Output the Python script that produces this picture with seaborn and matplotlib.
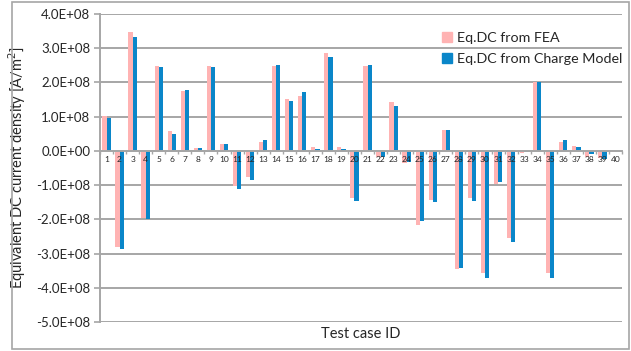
import numpy as np
import pandas as pd
import matplotlib
matplotlib.use("Agg")
import matplotlib.pyplot as plt
import seaborn as sns
from matplotlib.ticker import FuncFormatter, FixedLocator
from matplotlib.patches import Rectangle

# -----------------------------
# DATA (values in units of 1e8 A/m^2)
# -----------------------------
case_ids = [str(i) for i in range(1, 41)]
fea = [1.03, -2.82, 3.47, -1.95, 2.47, 0.59, 1.74, 0.07, 2.48, 0.20,
       -1.04, -0.75, 0.26, 2.47, 1.53, 1.59, 0.10, 2.87, 0.10, -1.39,
       2.47, -0.17, 1.44, -0.34, -2.18, -1.43, 0.61, -3.45, -1.39, -3.57,
       -0.97, -2.55, -0.06, 2.02, -3.57, 0.26, 0.15, -0.17, -0.21, -0.03]
charge = [0.96, -2.88, 3.33, -1.98, 2.45, 0.50, 1.77, 0.07, 2.44, 0.21,
          -1.10, -0.85, 0.32, 2.52, 1.47, 1.71, 0.06, 2.75, 0.06, -1.45,
          2.52, -0.19, 1.31, -0.33, -2.05, -1.48, 0.61, -3.41, -1.46, -3.72,
          -0.92, -2.67, -0.04, 2.00, -3.72, 0.31, 0.10, -0.08, -0.23, -0.01]
series_names = ["Eq.DC from FEA", "Eq.DC from Charge Model"]
colors = ["#FFB3B3", "#0A86C9"]
y_ticks = [-5e8, -4e8, -3e8, -2e8, -1e8, 0, 1e8, 2e8, 3e8, 4e8]

df = pd.DataFrame({
    "case": case_ids * 2,
    "value": np.array(fea + charge) * 1e8,
    "series": [series_names[0]] * 40 + [series_names[1]] * 40,
})

# -----------------------------
# PLOT
# -----------------------------
sns.set_style("white")
plt.rcParams["font.family"] = ["Lato", "DejaVu Sans"]

fig = plt.figure(figsize=(6.31, 3.51), dpi=100)
ax = fig.add_axes([100 / 631, 1 - 322 / 351, 522 / 631, 308 / 351])

# gridlines drawn underneath the bars
for yv in y_ticks:
    ax.axhline(yv, color="#A6A6A6", linewidth=1.4, zorder=0.5)

sns.barplot(data=df, x="case", y="value", hue="series", palette=colors,
            width=0.64, gap=0, ax=ax, legend=False, saturation=1,
            edgecolor="none", linewidth=0, zorder=1)

ax.set_ylim(-5e8, 4e8)
ax.set_xlim(-0.5, 39.5)
ax.yaxis.set_major_locator(FixedLocator(y_ticks))
ax.yaxis.set_major_formatter(FuncFormatter(lambda v, p: f"{v:.1E}"))
ax.grid(False)
ax.set_axisbelow(False)

for s in ["top", "right"]:
    ax.spines[s].set_visible(False)
ax.spines["left"].set_color("#A6A6A6")
ax.spines["left"].set_linewidth(1.4)
ax.spines["bottom"].set_position(("data", 0))
ax.spines["bottom"].set_color("#A6A6A6")
ax.spines["bottom"].set_linewidth(1.4)

ax.tick_params(axis="y", direction="out", length=4, width=1.2, color="#A6A6A6",
               labelsize=9.5, pad=3, left=True)
ax.tick_params(axis="x", length=0, labelsize=6, pad=4)
ax.set_xticks(np.arange(-0.5, 40, 1), minor=True)
ax.tick_params(axis="x", which="minor", direction="out", length=2.5,
               width=1, color="#A6A6A6", bottom=True)

ax.set_xlabel("")
ax.set_ylabel("Equivalent DC current density [A/m$^2$]", fontsize=10.5, labelpad=6)
ax.text(0.5, -0.015, "Test case ID", transform=ax.transAxes, ha="center",
        va="top", fontsize=10.5)

handles = [Rectangle((0, 0), 1, 1, color=c) for c in colors]
fig.legend(handles, series_names, loc="upper left",
           bbox_to_anchor=(435 / 631, 1 - 25 / 351), frameon=False,
           fontsize=10.3, handlelength=0.7, handleheight=0.7,
           handletextpad=0.35, labelspacing=0.65, borderpad=0)

# outer chart border
fig.patches.append(Rectangle((12 / 631, 2 / 351), 617 / 631, 347 / 351,
                             transform=fig.transFigure, fill=False,
                             edgecolor="#A6A6A6", linewidth=1.2))

plt.savefig("out.png", dpi=100)
plt.close()
